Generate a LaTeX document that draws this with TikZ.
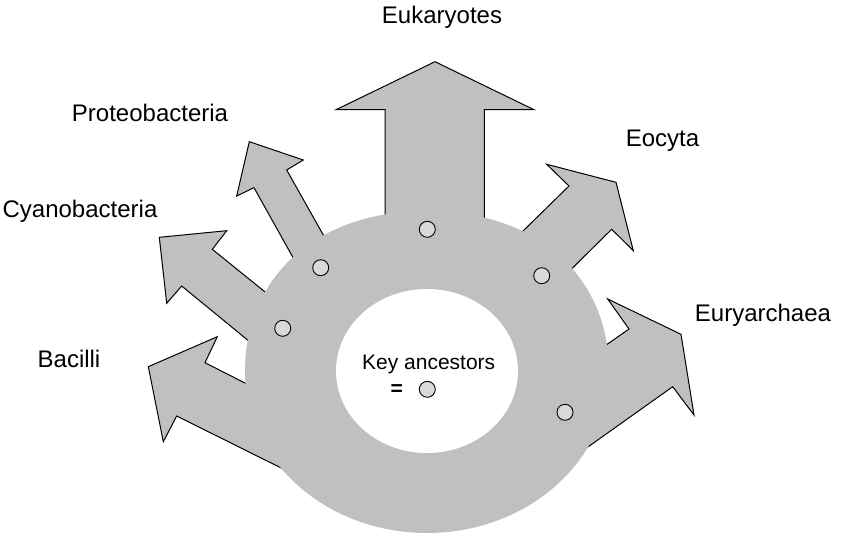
\documentclass[tikz,border=0pt]{standalone}
\usepackage{fontspec}
\setmainfont{Liberation Sans}
\definecolor{ringgray}{HTML}{C0C0C0}
\definecolor{dotgray}{HTML}{D9D9D9}
\begin{document}
\begin{tikzpicture}[x=1pt,y=-1pt,
  arrowshape/.style={fill=ringgray, draw=black, line width=1pt, line join=miter},
  ancestor/.style={circle, draw=black, fill=dotgray, line width=0.9pt, minimum size=16pt, inner sep=0pt},
  taxon/.style={font=\fontsize{24}{28}\selectfont, anchor=base, inner sep=0pt},
  keytext/.style={font=\fontsize{21}{25}\selectfont, anchor=base, inner sep=0pt}]
\useasboundingbox (0,0) rectangle (843,537);
% arrows
\draw[arrowshape] (385,250) -- (385,109.7) -- (336,109.7) -- (435,61.7) -- (534,109.7) -- (484.3,109.7) -- (484.3,250) -- cycle;
\draw[arrowshape] (305.6,280.1) -- (254,187.7) -- (236.7,196) -- (249.3,141.7) -- (303.3,160) -- (286.7,170) -- (335.6,256.8) -- cycle;
\draw[arrowshape] (266.7,355.7) -- (181.7,286) -- (166.7,303.3) -- (159.3,237.3) -- (226.7,230.7) -- (212.3,249.3) -- (285.4,308.4) -- cycle;
\draw[arrowshape] (304.1,479.4) -- (176.7,416) -- (163.3,441.7) -- (148.3,366.7) -- (217.3,336.7) -- (205,362.7) -- (267.4,394.4) -- cycle;
\draw[arrowshape] (505.4,248.2) -- (569,186) -- (546.7,164.3) -- (616,182.3) -- (633.3,250.7) -- (611.7,229.3) -- (553.8,286.5) -- cycle;
\draw[arrowshape] (587.9,357.8) -- (629,329) -- (607.7,299) -- (681,334.3) -- (694,415) -- (672.7,386.7) -- (567.9,461.2) -- cycle;
% ring
\fill[ringgray] (609,372) .. controls (609,275.4) and (536.2,211) .. (427,211)
  .. controls (317.8,211) and (245,275.4) .. (245,372)
  .. controls (245,460.9) and (326.5,533) .. (427,533)
  .. controls (527.5,533) and (609,460.9) .. (609,372) -- cycle;
\fill[white] (427,371) ellipse [x radius=91, y radius=82];
% ancestors
\node[ancestor] (a1) at (427.3,229.3) {};
\node[ancestor] (a2) at (320.7,267.7) {};
\node[ancestor] (a3) at (282.7,328.3) {};
\node[ancestor] (a4) at (541.7,275.7) {};
\node[ancestor] (a5) at (565,412.3) {};
\node[ancestor] (akey) at (427.3,389.3) {};
% labels
\node[taxon] (euk) at (442,24) {Eukaryotes};
\node[taxon] (pro) at (150,121.7) {Proteobacteria};
\node[taxon] (cya) at (80,218) {Cyanobacteria};
\node[taxon] (bac) at (69,367) {Bacilli};
\node[taxon] (eoc) at (662.5,146.7) {Eocyta};
\node[taxon] (eur) at (763,321.7) {Euryarchaea};
\node[keytext] (key) at (428.7,369.3) {Key ancestors};
\node[keytext] (eq) at (396.7,395.5) {\bfseries =};
\end{tikzpicture}
\end{document}
